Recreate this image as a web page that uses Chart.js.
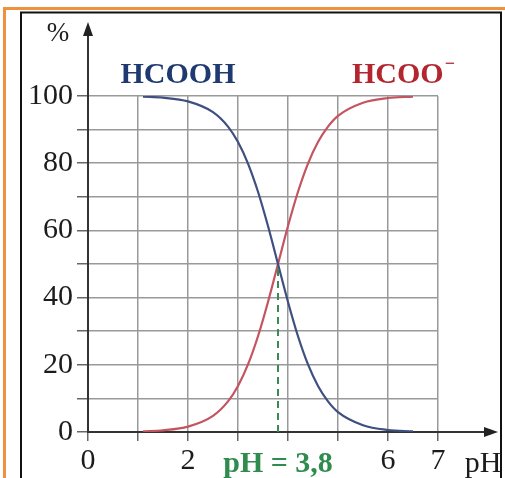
<!DOCTYPE html>
<html>
<head>
<meta charset="utf-8">
<script src="https://cdn.jsdelivr.net/npm/chart.js@4"></script>
<style>
  html, body { margin: 0; padding: 0; background: #fff; }
  #wrap { width: 505px; height: 478px; position: relative; }
  canvas { display: block; }
</style>
</head>
<body>
<div id="wrap"><canvas id="c" width="505" height="478"></canvas></div>
<script>
// ---- data ----
const pH = [1.1, 1.5, 2.0, 2.5, 2.8, 3.0, 3.2, 3.4, 3.6, 3.8, 4.0, 4.2, 4.4, 4.6, 4.8, 5.0, 5.5, 6.0, 6.5];
const hcooh = [99.8, 99.5, 98.4, 95.2, 90.9, 86.3, 79.9, 71.5, 61.3, 50, 38.7, 28.5, 20.1, 13.7, 9.1, 5.9, 2.0, 0.6, 0.2];
const hcoo = [0.2, 0.5, 1.6, 4.8, 9.1, 13.7, 20.1, 28.5, 38.7, 50, 61.3, 71.5, 79.9, 86.3, 90.9, 94.1, 98.0, 99.4, 99.8];
const pKaLine = [3.8, 3.8];
const pKaLineY = [0, 50];
const xTickLabels = [0, 2, 6, 7];
const yTickLabels = [0, 20, 40, 60, 80, 100];
const seriesNames = ['HCOOH', 'HCOO'];
const pKaText = 'pH = 3,8';

const serif = "'Liberation Serif', 'DejaVu Serif', serif";

const toPts = (xs, ys) => xs.map((x, i) => ({ x: x, y: ys[i] }));

const decor = {
  id: 'decor',
  beforeDraw(chart) {
    const ctx = chart.ctx;
    ctx.save();
    ctx.fillStyle = '#fff';
    ctx.fillRect(0, 0, chart.width, chart.height);
    // orange lines
    ctx.fillStyle = '#f0913d';
    ctx.fillRect(3, 7, 502, 3);
    ctx.fillRect(3, 7, 3, 471);
    // black frame
    ctx.strokeStyle = '#111';
    ctx.lineWidth = 2;
    ctx.beginPath();
    ctx.moveTo(21, 490);
    ctx.lineTo(21, 12.5);
    ctx.lineTo(501, 12.5);
    ctx.lineTo(501, 490);
    ctx.stroke();
    ctx.restore();
  },
  afterDraw(chart) {
    const ctx = chart.ctx;
    const xs = chart.scales.x, ys = chart.scales.y;
    const x0 = xs.getPixelForValue(0), y0 = ys.getPixelForValue(0);
    ctx.save();
    // axis extensions + arrows
    ctx.strokeStyle = '#333';
    ctx.fillStyle = '#222';
    ctx.lineWidth = 2;
    ctx.beginPath();
    ctx.moveTo(x0, ys.getPixelForValue(100));
    ctx.lineTo(x0, 32);
    ctx.moveTo(xs.getPixelForValue(7), y0);
    ctx.lineTo(488, y0);
    ctx.stroke();
    ctx.beginPath();
    ctx.moveTo(x0, 22);
    ctx.lineTo(x0 - 5, 36);
    ctx.lineTo(x0 + 5, 36);
    ctx.closePath();
    ctx.fill();
    ctx.beginPath();
    ctx.moveTo(498, y0);
    ctx.lineTo(484, y0 - 5);
    ctx.lineTo(484, y0 + 5);
    ctx.closePath();
    ctx.fill();

    // texts
    ctx.textBaseline = 'alphabetic';
    ctx.textAlign = 'center';
    ctx.fillStyle = '#1c1c1c';
    ctx.font = '27px ' + serif;
    ctx.fillText('%', 58, 41);
    ctx.font = '30px ' + serif;
    ctx.fillText('pH', 483, 472);

    ctx.font = 'bold 30px ' + serif;
    ctx.fillStyle = '#1f3a70';
    ctx.fillText(seriesNames[0], 178, 83);
    ctx.textAlign = 'left';
    ctx.fillStyle = '#b3262f';
    ctx.fillText(seriesNames[1], 352, 83);
    const w = ctx.measureText(seriesNames[1]).width;
    ctx.font = 'bold 18px ' + serif;
    ctx.fillText('\u2212', 352 + w + 1, 69);

    ctx.textAlign = 'center';
    ctx.font = 'bold 30px ' + serif;
    ctx.fillStyle = '#2f8c4e';
    ctx.fillText(pKaText, xs.getPixelForValue(3.8), 472);
    ctx.restore();
  }
};

new Chart(document.getElementById('c'), {
  type: 'scatter',
  data: {
    datasets: [
      {
        data: toPts(pKaLine, pKaLineY),
        showLine: true,
        borderColor: '#3a8a55',
        borderWidth: 2,
        borderDash: [7, 5],
        pointRadius: 0
      },
      {
        data: toPts(pH, hcooh),
        showLine: true,
        borderColor: '#3f4f80',
        borderWidth: 2.2,
        pointRadius: 0,
        cubicInterpolationMode: 'monotone'
      },
      {
        data: toPts(pH, hcoo),
        showLine: true,
        borderColor: '#c45460',
        borderWidth: 2.2,
        pointRadius: 0,
        cubicInterpolationMode: 'monotone'
      }
    ]
  },
  options: {
    responsive: false,
    animation: false,
    devicePixelRatio: 1,
    layout: { padding: { left: 0, right: 67, top: 96, bottom: 0 } },
    plugins: { legend: { display: false }, tooltip: { enabled: false } },
    scales: {
      x: {
        type: 'linear',
        min: 0, max: 7,
        afterFit: s => { s.height = 46; },
        ticks: {
          stepSize: 1,
          autoSkip: false,
          maxRotation: 0,
          padding: 2,
          color: '#1c1c1c',
          font: { family: serif, size: 30 },
          callback: v => xTickLabels.includes(v) ? String(v) : ''
        },
        grid: { color: '#999', lineWidth: 1.5, tickLength: 9, tickColor: '#666', drawOnChartArea: true },
        border: { display: true, color: '#333', width: 2 }
      },
      y: {
        min: 0, max: 100,
        afterFit: s => { s.width = 88; },
        ticks: {
          stepSize: 10,
          autoSkip: false,
          padding: 4,
          color: '#1c1c1c',
          font: { family: serif, size: 30 },
          callback: v => yTickLabels.includes(v) ? String(v) : ''
        },
        grid: { color: '#999', lineWidth: 1.5, tickLength: 11, tickColor: '#666' },
        border: { display: true, color: '#333', width: 2 }
      }
    }
  },
  plugins: [decor]
});
</script>
</body>
</html>
